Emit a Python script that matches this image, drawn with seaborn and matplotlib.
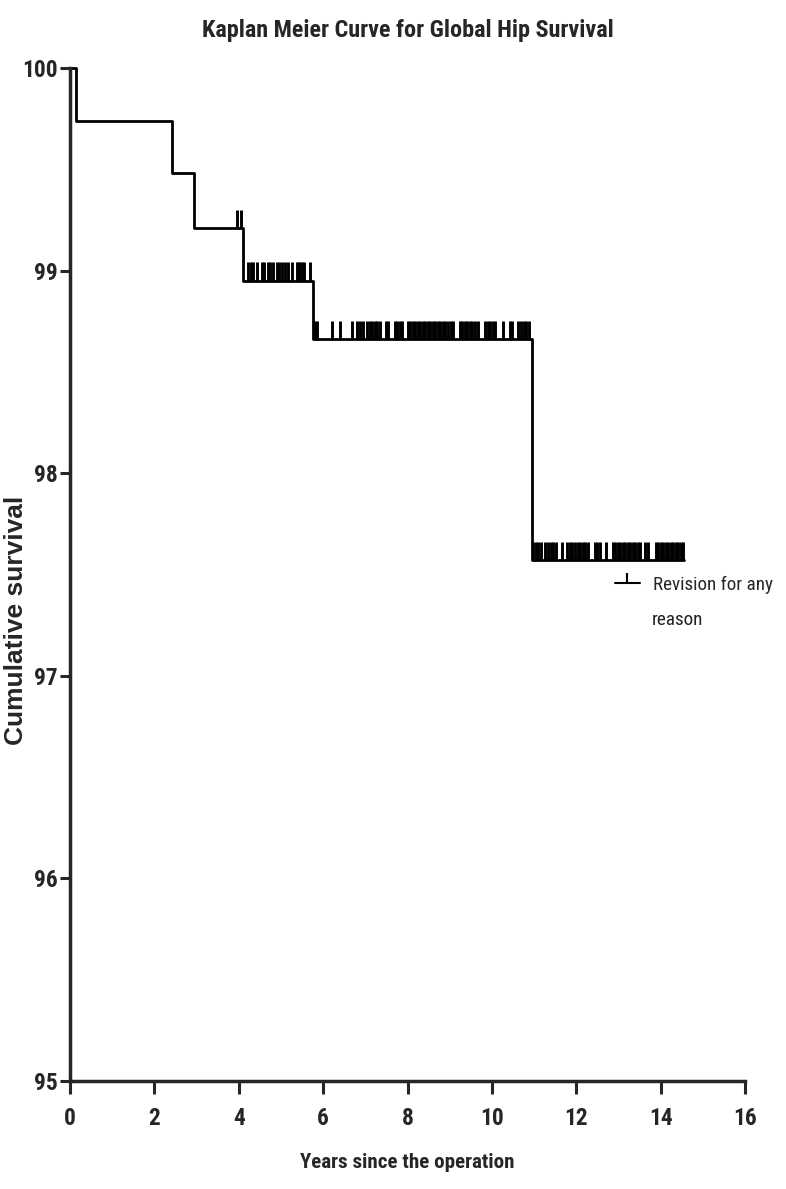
import numpy as np
import matplotlib
matplotlib.use("Agg")
import matplotlib.pyplot as plt
from matplotlib import font_manager
from matplotlib.lines import Line2D
from matplotlib.path import Path
import seaborn as sns

# Kaplan-Meier steps (years, cumulative survival %)
event_times = [0.0, 0.15, 2.42, 2.93, 4.10, 5.76, 10.95]
survival = [100.0, 99.74, 99.48, 99.21, 98.95, 98.66, 97.57]
end_time = 14.55

# censored observations (years)
censor_times = [
    3.96, 4.05,
    4.22, 4.29, 4.34, 4.43, 4.55, 4.60, 4.69, 4.74, 4.81, 4.91, 4.95, 5.02,
    5.09, 5.17, 5.26, 5.38, 5.40, 5.45, 5.50, 5.55, 5.69,
    5.81, 5.85, 6.21, 6.40, 6.68, 6.80, 6.87, 6.94,
    7.04, 7.10, 7.16, 7.22, 7.28, 7.34, 7.48, 7.54, 7.70, 7.76, 7.82, 7.88,
    8.00, 8.06, 8.12, 8.18, 8.24, 8.30, 8.36, 8.42, 8.48, 8.54, 8.60, 8.66,
    8.72, 8.78, 8.84, 8.90, 8.96, 9.02, 9.08, 9.24, 9.30, 9.36, 9.42, 9.48,
    9.54, 9.60, 9.66, 9.84, 9.90, 9.96, 10.02, 10.08, 10.26, 10.42, 10.48,
    10.62, 10.69, 10.76, 10.82, 10.88,
    10.98, 11.04, 11.10, 11.16, 11.27, 11.33, 11.39, 11.45, 11.51, 11.66,
    11.79, 11.85, 11.91, 11.97, 12.03, 12.09, 12.15, 12.21, 12.27, 12.44,
    12.50, 12.56, 12.70, 12.86, 12.92, 12.98, 13.04, 13.10, 13.16, 13.22,
    13.28, 13.34, 13.40, 13.46, 13.52, 13.64, 13.70, 13.88, 13.94, 14.00,
    14.06, 14.12, 14.18, 14.24, 14.30, 14.36, 14.42, 14.48, 14.53,
]

x_ticks = [0, 2, 4, 6, 8, 10, 12, 14, 16]
y_ticks = [95, 96, 97, 98, 99, 100]
legend_label = "Revision for any"
legend_label_2 = "reason"

sns.set_style("ticks")

# use a condensed face if there is one, else plain Liberation Sans, smaller
names = {f.name for f in font_manager.fontManager.ttflist}
cond = next((n for n in ["Roboto Condensed", "Open Sans Condensed",
                         "Liberation Sans Narrow", "Arial Narrow"] if n in names), None)
if cond:
    base = [cond, "DejaVu Sans"]
    k = 1.2
else:
    base = ["Liberation Sans", "DejaVu Sans"]
    k = 1.0
plt.rcParams["font.family"] = base

fig = plt.figure(figsize=(7.86, 11.89), dpi=100)
ax = fig.add_axes([70 / 786, 1 - 1081 / 1189, 675 / 786, 1013 / 1189])

# step curve
xs = event_times + [end_time]
ys = survival + [survival[-1]]
sns.lineplot(x=xs, y=ys, drawstyle="steps-post", color="black", lw=2.0,
             ax=ax, clip_on=False)

# censor marks, pointing upward from the curve
idx = np.searchsorted(event_times, censor_times, side="right") - 1
cy = np.array(survival)[idx]
ax.vlines(censor_times, cy, cy + 0.09, color="black", lw=2.1)

ax.set_xlim(0, 16)
ax.set_ylim(95, 100)
ax.set_xticks(x_ticks)
ax.set_yticks(y_ticks)
ax.tick_params(axis="x", length=9, width=2.2, pad=10, labelsize=14 * k)
ax.tick_params(axis="y", length=7, width=2.2, pad=2, labelsize=14 * k)
for lab in ax.get_xticklabels() + ax.get_yticklabels():
    lab.set_fontweight("bold")
for s in ["left", "bottom"]:
    ax.spines[s].set_linewidth(2.5)
sns.despine(ax=ax)

ax.set_xlabel("Years since the operation", fontsize=12.6 * k, fontweight="bold",
              labelpad=16)
ax.set_ylabel("Cumulative survival", fontsize=19, fontweight="bold",
              family=["Liberation Sans", "DejaVu Sans"])
ax.yaxis.set_label_coords(-0.062, 0.455)

fig.text(408 / 786, 1 - 30 / 1189, "Kaplan Meier Curve for Global Hip Survival",
         ha="center", va="center", fontsize=14.5 * k, fontweight="bold")

# legend with an upward censor tick symbol
fs_leg = 11.5 * k
up_tick = Path([(0, 0), (0, 1)], [Path.MOVETO, Path.LINETO])
handle = Line2D([], [], color="black", lw=1.5, marker=up_tick, markersize=14,
                markeredgewidth=1.5)
ax.legend([handle], [legend_label], loc="center left",
          bbox_to_anchor=(0.807, 0.4896), frameon=False, fontsize=fs_leg,
          handlelength=18 / fs_leg, handletextpad=9.4 / fs_leg,
          borderpad=0, borderaxespad=0)
ax.text(0.862, 0.455, legend_label_2, transform=ax.transAxes,
        ha="left", va="center", fontsize=fs_leg, color="#222222")

fig.savefig("out.png", dpi=100)
